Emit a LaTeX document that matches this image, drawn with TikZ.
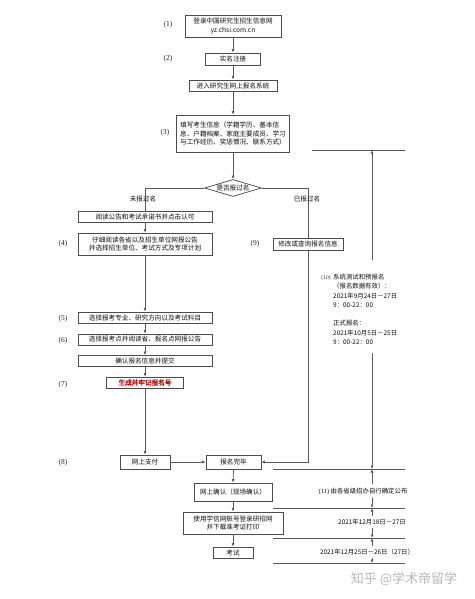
\documentclass[tikz,border=0pt]{standalone}
\usepackage{fontspec}
\setmainfont{Noto Sans CJK SC}
\newfontfamily\lat{Liberation Serif}
\newfontfamily\cjkbold[FakeBold=1.5]{Noto Sans CJK SC}
\usetikzlibrary{arrows.meta,shapes.geometric}
\begin{document}
\begin{tikzpicture}[x=1pt,y=-1pt,
  box/.style={draw=black!70, line width=0.75pt, inner sep=0pt, align=center, font=\fontsize{6.6}{8.6}\selectfont, text=black!95},
  ln/.style={draw=black!65, line width=0.75pt},
  arr/.style={ln, -{Latex[length=3.5pt,width=3pt]}},
  lab/.style={font=\lat\fontsize{7.5}{9}\selectfont, text=black!85, inner sep=0pt},
  txt/.style={font=\fontsize{6.4}{9.3}\selectfont, text=black!95, inner sep=0pt},
  dt/.style={font=\fontsize{6.4}{8}\selectfont, text=black!95, inner sep=3pt}]
\useasboundingbox[fill=white] (0,0) rectangle (474,599);

% main column
\node[box, minimum width=96pt, minimum height=22pt] (b1) at (233,26) {登录中国研究生招生信息网\\yz.chsi.com.cn};
\node[box, minimum width=55pt, minimum height=12pt] (b2) at (233,59) {实名注册};
\node[box, minimum width=88pt, minimum height=11pt] (b3) at (233,85.5) {进入研究生网上报名系统};
\node[box, minimum width=113pt, minimum height=37pt, align=left] (b4) at (233,133.5) {填写考生信息（学籍学历、基本信\\息、户籍档案、家庭主要成员、学习\\与工作经历、奖惩情况、联系方式）};
\node[draw=black!70, line width=0.75pt, diamond, aspect=3.3, inner sep=0pt, minimum width=57pt, minimum height=17pt, font=\fontsize{6.6}{8}\selectfont, text=black!95] (dia) at (233,188) {是否报过名};

% left branch
\node[box, minimum width=134pt, minimum height=11pt] (b5) at (145,217) {阅读公告和考试承诺书并点击认可};
\node[box, minimum width=134pt, minimum height=22pt] (b6) at (145,244) {仔细阅读各省以及招生单位网报公告\\并选择招生单位、考试方式及专项计划};
\node[box, minimum width=134pt, minimum height=11pt] (b7) at (145,317.5) {选择报考专业、研究方向以及考试科目};
\node[box, minimum width=134pt, minimum height=11pt] (b8) at (145,339.5) {选择报考点并阅读省、报名点网报公告};
\node[box, minimum width=134pt, minimum height=11pt] (b9) at (145,361) {确认报名信息并提交};
\node[box, minimum width=77pt, minimum height=11pt, text=red!75!black, font=\cjkbold\fontsize{6.6}{8}\selectfont] (b10) at (145,382.5) {生成并牢记报名号};
\node[box, minimum width=50pt, minimum height=14pt] (b11) at (145,462) {网上支付};
\node[box, minimum width=55pt, minimum height=14pt] (b12) at (233.5,462) {报名完毕};
\node[box, minimum width=78pt, minimum height=18pt] (b13) at (233,492) {网上确认（现场确认）};
\node[box, minimum width=100pt, minimum height=22pt] (b14) at (233,523) {使用学信网账号登录研招网\\并下载准考证打印};
\node[box, minimum width=40pt, minimum height=11pt] (b15) at (233,552.5) {考试};

% right branch
\node[box, minimum width=70pt, minimum height=12pt] (r9) at (308,244) {修改或查询报名信息};

% step labels
\node[lab] (l1) at (168,25) {(1)};
\node[lab] (l2) at (168,59) {(2)};
\node[lab] (l3) at (165,133) {(3)};
\node[lab] (l4) at (63,244) {(4)};
\node[lab] (l5) at (63,319) {(5)};
\node[lab] (l6) at (63,341) {(6)};
\node[lab] (l7) at (63,385) {(7)};
\node[lab] (l8) at (63,463) {(8)};
\node[lab] (l9) at (255,244) {(9)};

% connectors main
\draw[arr] (b1.south) -- (b2.north);
\draw[arr] (b2.south) -- (b3.north);
\draw[arr] (b3.south) -- (b4.north);
\draw[arr] (b4.south) -- (dia.north);
\draw[ln] (dia.west) -| (b5.north);
\draw[ln] (dia.east) -| (r9.north);
\node[font=\fontsize{6.6}{8}\selectfont, text=black!95, inner sep=0pt] (nl) at (143,199) {未报过名};
\node[font=\fontsize{6.6}{8}\selectfont, text=black!95, inner sep=0pt] (nr) at (307,199) {已报过名};
\draw[arr] (b5.south) -- (b6.north);
\draw[arr] (b6.south) -- (b7.north);
\draw[arr] (b7.south) -- (b8.north);
\draw[arr] (b8.south) -- (b9.north);
\draw[arr] (b9.south) -- (b10.north);
\draw[arr] (b10.south) -- (b11.north);
\draw[arr] (b11.east) -- (b12.west);
\draw[arr] (r9.south) |- (b12.east);
\draw[arr] (b12.south) -- (b13.north);
\draw[arr] (b13.south) -- (b14.north);
\draw[arr] (b14.south) -- (b15.north);

% timeline
\coordinate (h0a) at (312,150); \coordinate (h0b) at (405,150);
\coordinate (h1a) at (273,469); \coordinate (h1b) at (405,469);
\coordinate (h2a) at (273,508); \coordinate (h2b) at (405,508);
\coordinate (h3a) at (273,538); \coordinate (h3b) at (405,538);
\coordinate (h4a) at (273,563); \coordinate (h4b) at (405,563);
\draw[ln] (h0a) -- (h0b);
\draw[ln] (h1a) -- (h1b);
\draw[ln] (h2a) -- (h2b);
\draw[ln] (h3a) -- (h3b);
\draw[ln] (h4a) -- (h4b);
\coordinate (v0) at (372,150);
\coordinate (t0) at (372,260);
\coordinate (t1) at (372,353);
\coordinate (v1) at (372,469);
\coordinate (v2) at (372,508);
\coordinate (v3) at (372,538);
\coordinate (v4) at (372,563);
\draw[arr] (t0) -- (v0);
\draw[arr] (t1) -- (v1);

\node[lab, font=\lat\fontsize{5.5}{7}\selectfont] (l10) at (326,278) {(10)};
\node[txt, anchor=north west, align=left] (p10) at (333,274) {系统测试和预报名\\（报名数据有效）：\\2021年9月24日－27日\\9：00-22：00\\[9pt]正式报名：\\2021年10月5日－25日\\9：00-22：00};

\node[dt] (d1) at (363,491) {{\lat\fontsize{6.5}{8}\selectfont(11)} 由各省级招办自行确定公布};
\node[dt] (d2) at (372,522) {2021年12月18日－27日};
\node[dt] (d3) at (367,552) {2021年12月25日－26日（27日）};
\draw[arr] (d1.north -| v1) -- (v1);
\draw[arr] (d1.south -| v2) -- (v2);
\draw[arr] (d2.north -| v2) -- (v2);
\draw[arr] (d2.south -| v3) -- (v3);
\draw[arr] (d3.north -| v3) -- (v3);
\draw[arr] (d3.south -| v4) -- (v4);

% watermark
\node[font=\fontsize{13}{15}\selectfont, text=black!28, inner sep=0pt] (wm) at (404,579) {知乎 @学术帝留学};
\end{tikzpicture}
\end{document}
